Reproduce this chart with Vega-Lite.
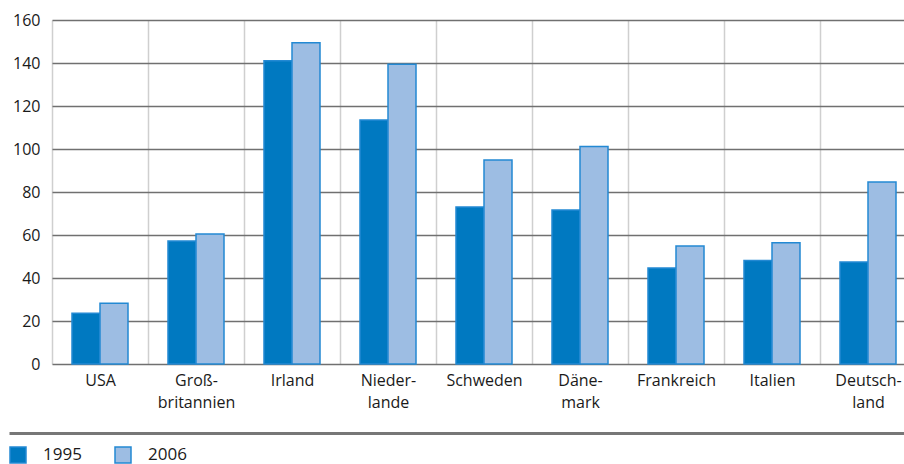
{
  "$schema": "https://vega.github.io/schema/vega-lite/v6.json",
  "width": 852,
  "height": 344,
  "autosize": {"type": "none"},
  "padding": {"left": 52, "top": 20, "right": 0, "bottom": 100},
  "background": "white",
  "config": {
    "view": {"stroke": null},
    "axis": {"labelFont": "Open Sans", "labelFontSize": 16, "labelColor": "#1a1a1a"},
    "legend": {"labelFont": "Open Sans", "labelFontSize": 17, "labelColor": "#1a1a1a"}
  },
  "data": {
    "values": [
      {"country": "USA", "year": "1995", "value": 23.6},
      {"country": "USA", "year": "2006", "value": 28.2},
      {"country": "Groß-britannien", "year": "1995", "value": 57.2},
      {"country": "Groß-britannien", "year": "2006", "value": 60.5},
      {"country": "Irland", "year": "1995", "value": 141.1},
      {"country": "Irland", "year": "2006", "value": 149.4},
      {"country": "Nieder-lande", "year": "1995", "value": 113.5},
      {"country": "Nieder-lande", "year": "2006", "value": 139.4},
      {"country": "Schweden", "year": "1995", "value": 73.0},
      {"country": "Schweden", "year": "2006", "value": 94.9},
      {"country": "Däne-mark", "year": "1995", "value": 71.6},
      {"country": "Däne-mark", "year": "2006", "value": 101.2},
      {"country": "Frankreich", "year": "1995", "value": 44.7},
      {"country": "Frankreich", "year": "2006", "value": 54.9},
      {"country": "Italien", "year": "1995", "value": 48.1},
      {"country": "Italien", "year": "2006", "value": 56.4},
      {"country": "Deutsch-land", "year": "1995", "value": 47.4},
      {"country": "Deutsch-land", "year": "2006", "value": 84.7}
    ]
  },
  "layer": [
    {
      "mark": {"type": "bar", "stroke": "#2389d3", "strokeWidth": 1.5},
      "encoding": {
        "x": {
          "field": "country", "type": "nominal", "sort": null,
          "scale": {"range": [0, 864], "paddingInner": 0, "paddingOuter": 0},
          "axis": {
            "title": null,
            "labelAngle": 0,
            "labelExpr": "indexof(datum.label, '-') > 0 ? [slice(datum.label, 0, indexof(datum.label, '-') + 1), slice(datum.label, indexof(datum.label, '-') + 1)] : datum.label",
            "labelLineHeight": 22,
            "labelPadding": 8,
            "ticks": false,
            "domain": false,
            "grid": true,
            "tickBand": "extent",
            "gridColor": "#cfcfcf",
            "gridWidth": 1.5
          }
        },
        "xOffset": {
          "field": "year", "type": "nominal",
          "scale": {"paddingInner": 0, "paddingOuter": 0.714}
        },
        "y": {
          "field": "value", "type": "quantitative",
          "scale": {"domain": [0, 160]},
          "axis": {
            "title": null,
            "values": [0, 20, 40, 60, 80, 100, 120, 140, 160],
            "ticks": false,
            "domain": false,
            "gridColor": "#707070",
            "gridWidth": 1.5,
            "labelPadding": 12
          }
        },
        "color": {
          "field": "year", "type": "nominal",
          "scale": {"domain": ["1995", "2006"], "range": ["#0079c1", "#9dbde3"]},
          "legend": {
            "title": null,
            "orient": "none",
            "legendX": -43,
            "legendY": 426,
            "direction": "horizontal",
            "symbolType": "square",
            "symbolSize": 256,
            "symbolStrokeWidth": 1.5,
            "symbolStrokeColor": "#2389d3",
            "labelOffset": 16,
            "columnPadding": 30,
            "padding": 0
          }
        }
      }
    },
    {
      "mark": {"type": "rule", "opacity": 0},
      "encoding": {
        "x": {
          "field": "country", "type": "nominal", "sort": null,
          "scale": {"range": [-43, 852]},
          "axis": {
            "orient": "bottom",
            "offset": 69,
            "title": null,
            "domain": true,
            "domainColor": "#777777",
            "domainWidth": 3,
            "labels": false,
            "ticks": false,
            "grid": false
          }
        }
      }
    }
  ],
  "resolve": {"scale": {"x": "independent"}, "axis": {"x": "independent"}}
}
